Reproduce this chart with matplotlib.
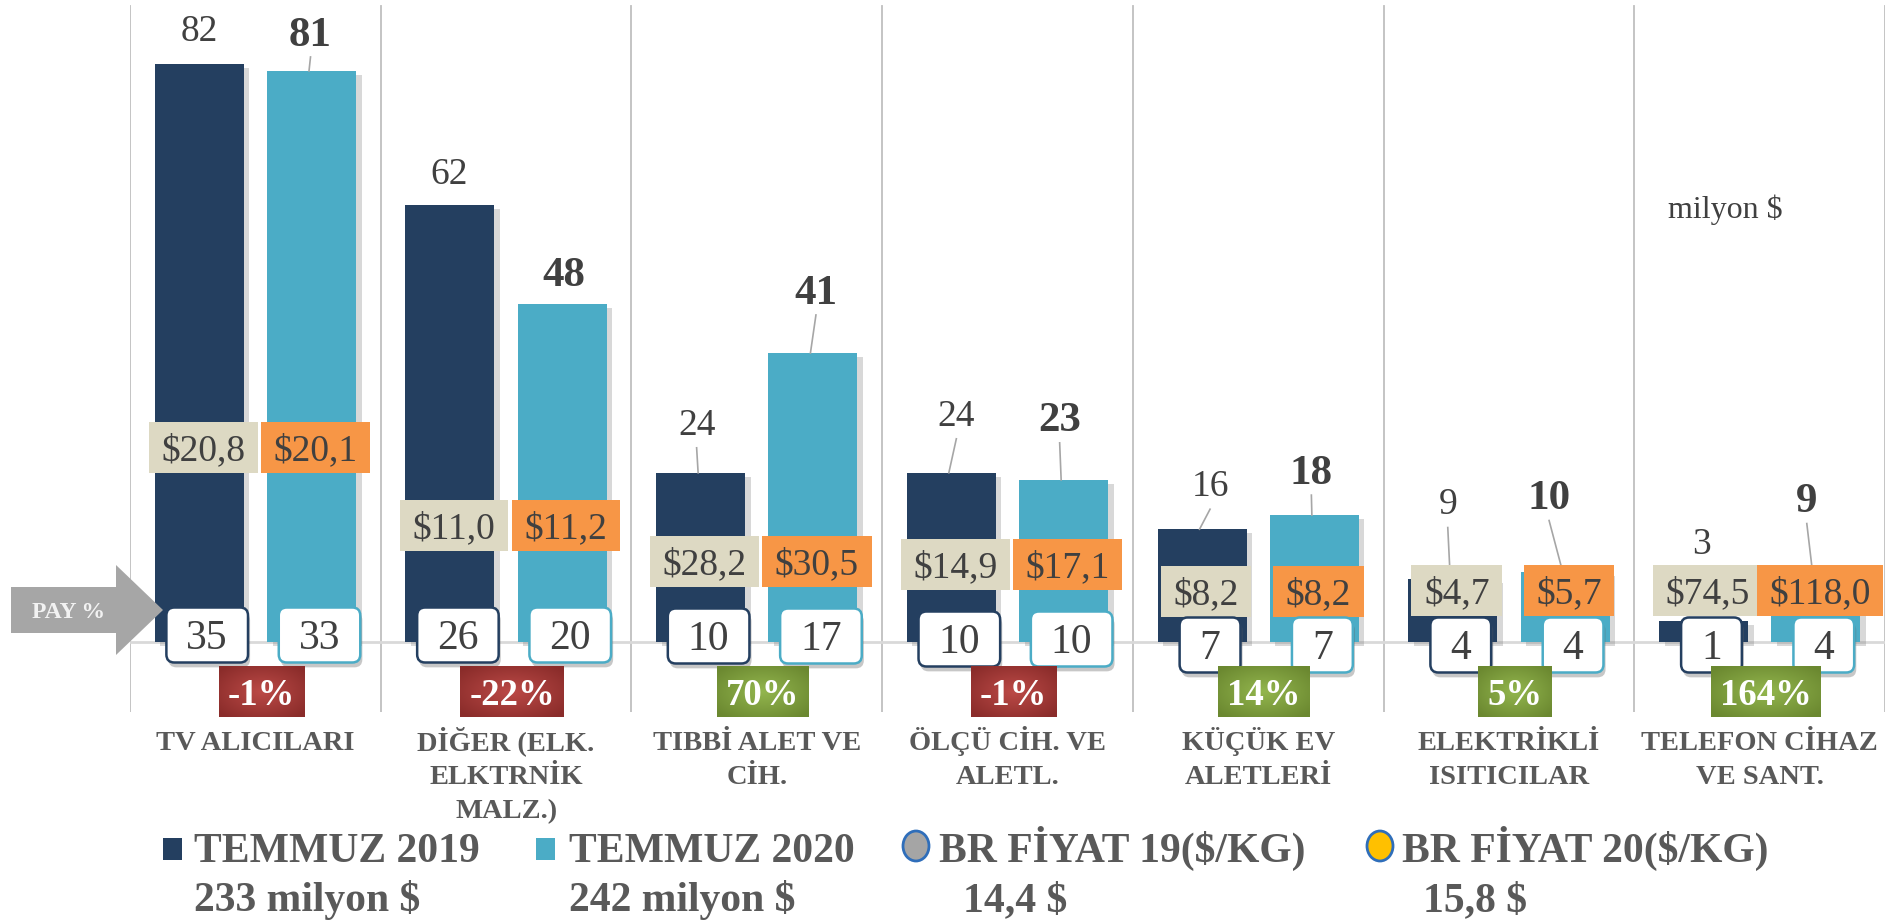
import numpy as np
import matplotlib
matplotlib.use("Agg")
import matplotlib.pyplot as plt
import matplotlib.patheffects as pe
from matplotlib.patches import FancyBboxPatch, Polygon, Rectangle, Ellipse

plt.rcParams['font.family'] = ['Liberation Serif', 'DejaVu Serif']

# data (milyon $, pay %, $/kg)
categories = ["TV ALICILARI", "DİĞER (ELK.\nELKTRNİK\nMALZ.)", "TIBBİ ALET VE\nCİH.",
              "ÖLÇÜ CİH. VE\nALETL.", "KÜÇÜK EV\nALETLERİ", "ELEKTRİKLİ\nISITICILAR",
              "TELEFON CİHAZ\nVE SANT."]
jul_2019 = [82, 62, 24, 24, 16, 9, 3]
jul_2020 = [81, 48, 41, 23, 18, 10, 9]
share_2019 = [35, 26, 10, 10, 7, 4, 1]
share_2020 = [33, 20, 17, 10, 7, 4, 4]
price_2019 = [20.8, 11.0, 28.2, 14.9, 8.2, 4.7, 74.5]
price_2020 = [20.1, 11.2, 30.5, 17.1, 8.2, 5.7, 118.0]
change = [-1, -22, 70, -1, 14, 5, 164]
legend_names = ["TEMMUZ 2019", "TEMMUZ 2020", "BR FİYAT 19($/KG)", "BR FİYAT 20($/KG)"]
legend_totals = ["233 milyon $", "242 milyon $", "14,4 $", "15,8 $"]

# colours
NAVY, TEAL = '#243F60', '#4BACC6'
BEIGE, ORANGE = '#DDD9C3', '#F79646'
TXT, CAT = '#404040', '#595959'

# layout (pixels of the 1899x923 picture)
W, H = 1899, 923
BASE = 642          # pixel row of the zero line
PX_Y = 7.05         # pixels per milyon $
PX_X = 1755 / 7     # pixels per category
# hand placed label positions, pixel offsets
lab_off_19 = [36, 34, 51, 60, 46, 77, 80]
lab_off_20 = [40, 32, 64, 63, 46, 77, 81]
lab_dx_19 = [0, -1, -4, 5, 8, -5, -2]
lab_dx_20 = [-1, 2, 3, -4, -3, -16, -9]
leader_19 = [False, False, True, True, True, True, False]
leader_20 = [True, False, True, True, True, True, True]
price_row = [447, 525, 561, 564, 591, 590, 590]
share_row = [635, 635, 636, 639, 645, 645, 645]
change_row = 692


def val(py):
    return (BASE - py) / PX_Y


def fpx(size):
    return size * 100 / 72


fig = plt.figure(figsize=(W / 100, H / 100), dpi=100)
ax = fig.add_axes([130 / W, 1 - 712 / H, 1755 / W, 712 / H])
ax.set_xlim(-0.5, 6.5)
ax.set_ylim(val(712), val(0))
ax.axis('off')
renderer = fig.canvas.get_renderer()

x = np.arange(len(categories))
off, bw = 0.224, 0.355

for b in np.arange(-0.5, 7, 1):
    ax.axvline(b, ymin=0, ymax=1 - 6 / 712, color='#BFBFBF', lw=1.3, zorder=0)
ax.axhline(0, color='#D9D9D9', lw=2, zorder=1)

shadow = [pe.SimplePatchShadow(offset=(4, -3), shadow_rgbFace='#7F7F7F', alpha=0.3), pe.Normal()]
bars19 = ax.bar(x - off, jul_2019, bw, color=NAVY, zorder=2)
bars20 = ax.bar(x + off, jul_2020, bw, color=TEAL, zorder=2)
for r in list(bars19) + list(bars20):
    r.set_path_effects(shadow)


def text_c(xd, py, s, size, **kw):
    # put text so that its digits are centred on pixel row py
    return ax.text(xd, val(py + 0.34 * fpx(size)), s, ha='center', va='baseline',
                   fontsize=size, **kw)


def boxed(xd, py, s, size, padx, h, fc, ec='none', lw=0, rnd=0, weight='normal',
          color=TXT, z=5, grad=None, shade=False):
    t = text_c(xd, py, s, size, fontweight=weight, color=color, zorder=z + 1)
    w = t.get_window_extent(renderer).width + 2 * padx
    x0, y0 = xd - w / 2 / PX_X, val(py + h / 2)
    wd, hd = w / PX_X, h / PX_Y
    if grad is not None:
        gy, gx = np.mgrid[-1:1:60j, -1:1:120j]
        t_ = np.clip(np.sqrt(gx ** 2 + gy ** 2) / 1.3, 0, 1)[..., None]
        c0 = np.array(matplotlib.colors.to_rgb(grad[0]))
        c1 = np.array(matplotlib.colors.to_rgb(grad[1]))
        img = ax.imshow(c0 * (1 - t_) + c1 * t_, extent=[x0, x0 + wd, y0, y0 + hd],
                        aspect='auto', zorder=z, interpolation='bilinear')
        img.set_clip_on(False)
        return
    style = "round,pad=0,rounding_size=%f" % (rnd / PX_X) if rnd else "square,pad=0"
    p = FancyBboxPatch((x0, y0), wd, hd, boxstyle=style, mutation_aspect=PX_X / PX_Y,
                       fc=fc, ec=ec, lw=lw, zorder=z, clip_on=False)
    if shade:
        p.set_path_effects([pe.SimplePatchShadow(offset=(1.5, -3.5), shadow_rgbFace='#606060',
                                                 alpha=0.35), pe.Normal()])
    ax.add_patch(p)


for i in range(len(categories)):
    for vals, sign, offs, dxs, lead, bold in (
            (jul_2019, -1, lab_off_19, lab_dx_19, leader_19, False),
            (jul_2020, 1, lab_off_20, lab_dx_20, leader_20, True)):
        bx = i + sign * off
        top = BASE - vals[i] * PX_Y
        lx = bx + dxs[i] / PX_X
        ly = top - offs[i]
        size = 31 if bold else 27
        text_c(lx, ly, str(vals[i]), size, color=TXT,
               fontweight='bold' if bold else 'normal', zorder=3)
        if lead[i]:
            ax.plot([lx, bx - 0.01], [val(ly + 26), val(top)], color='#A6A6A6', lw=1.2, zorder=2.5)

    # price boxes
    boxed(i - off + 4 / PX_X, price_row[i], '$' + f"{price_2019[i]:.1f}".replace('.', ','),
          27, 12.5, 51, BEIGE, z=4)
    boxed(i + off + 4 / PX_X, price_row[i], '$' + f"{price_2020[i]:.1f}".replace('.', ','),
          27, 12.5, 51, ORANGE, z=4.2)
    # share boxes
    boxed(i - off + 8 / PX_X, share_row[i], str(share_2019[i]), 30, 20, 55, 'white',
          ec=NAVY, lw=1.8, rnd=8, z=5, shade=True)
    boxed(i + off + 8 / PX_X, share_row[i], str(share_2020[i]), 30, 20, 55, 'white',
          ec=TEAL, lw=1.8, rnd=8, z=5, shade=True)
    # change boxes
    grad = ('#BC4A47', '#8A2C2A') if change[i] < 0 else ('#93B64E', '#6B8830')
    boxed(i + 6 / PX_X, change_row, f"{change[i]}%", 26.5, 9, 51, None,
          weight='bold', color='white', z=6, grad=grad)
    # category labels
    for k, line in enumerate(categories[i].split('\n')):
        ax.text(i, val(750 + 34 * k), line, ha='center', va='baseline', fontsize=20.5,
                fontweight='bold', color=CAT)

# overlay in pixel coordinates for arrow, note and legend
ov = fig.add_axes([0, 0, 1, 1])
ov.set_xlim(0, W)
ov.set_ylim(H, 0)
ov.axis('off')

ov.add_patch(Polygon([(11, 587), (116, 587), (116, 565), (163, 610), (116, 655),
                      (116, 633), (11, 633)], closed=True, fc='#A6A6A6', ec='none'))
ov.text(69, 618, 'PAY %', ha='center', va='baseline', fontsize=17, fontweight='bold',
        color='#F2F2F2')
ov.text(1725, 218, 'milyon $', ha='center', va='baseline', fontsize=23, color=TXT)

ov.add_patch(Rectangle((163, 838), 19, 22, fc=NAVY, ec='none'))
ov.add_patch(Rectangle((536, 838), 19, 22, fc=TEAL, ec='none'))
ov.add_patch(Ellipse((916, 846), 26, 30, fc='#A5A5A5', ec='#2F6EBA', lw=2))
ov.add_patch(Ellipse((1380, 846), 26, 30, fc='#FFC000', ec='#2F6EBA', lw=2))
for name, tot, tx, vx in zip(legend_names, legend_totals, [194, 569, 939, 1402],
                             [194, 569, 963, 1423]):
    ov.text(tx, 862, name, ha='left', va='baseline', fontsize=30, fontweight='bold', color=CAT)
    ov.text(vx, 911, tot, ha='left', va='baseline', fontsize=30, fontweight='bold', color=CAT)

fig.savefig('out.png', dpi=100)
